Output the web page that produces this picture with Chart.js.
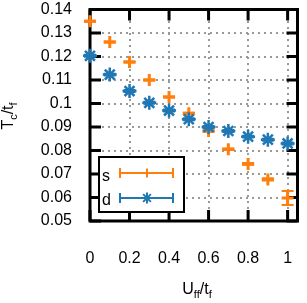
<!DOCTYPE html>
<html>
<head>
<meta charset="utf-8">
<script src="https://cdn.jsdelivr.net/npm/chart.js@4.4.1/dist/chart.umd.min.js"></script>
<style>
  html, body { margin: 0; padding: 0; background: #fff; }
  #wrap { width: 307px; height: 303px; }
</style>
</head>
<body>
<div id="wrap"><canvas id="chart" width="307" height="303"></canvas></div>
<script>
// data
const uValues = [0, 0.1, 0.2, 0.3, 0.4, 0.5, 0.6, 0.7, 0.8, 0.9, 1.0];
const sValues = [0.1350, 0.1262, 0.1177, 0.1100, 0.1028, 0.0958, 0.0883, 0.0805, 0.0743, 0.0677, 0.0598];
const sErrors = [0.0002, 0.0002, 0.0002, 0.0002, 0.0002, 0.0003, 0.0003, 0.0003, 0.0004, 0.0005, 0.0030];
const dValues = [0.1203, 0.1123, 0.1053, 0.1003, 0.0970, 0.0933, 0.0900, 0.0883, 0.0859, 0.0846, 0.0830];
const dErrors = [0.0004, 0.0004, 0.0004, 0.0004, 0.0004, 0.0004, 0.0004, 0.0004, 0.0004, 0.0004, 0.0004];
const xTicks = [0, 0.2, 0.4, 0.6, 0.8, 1];
const yTicks = [0.05, 0.06, 0.07, 0.08, 0.09, 0.1, 0.11, 0.12, 0.13, 0.14];

const ORANGE = '#ff7f0e';
const BLUE = '#1f77b4';
const FONT = '"Liberation Sans", Arial, sans-serif';

function fmt(v) {
    return String(parseFloat(v.toFixed(2)));
}

// draws "X_sub/t_sub" style label starting at x, baseline y
function drawSubLabel(ctx, parts, x, y) {
    let cx = x;
    parts.forEach(p => {
        ctx.font = (p.sub ? '11px ' : '16px ') + FONT;
        ctx.fillText(p.t, cx, y + (p.sub ? 4 : 0));
        cx += ctx.measureText(p.t).width;
    });
    return cx - x;
}

function labelWidth(ctx, parts) {
    let w = 0;
    parts.forEach(p => {
        ctx.font = (p.sub ? '11px ' : '16px ') + FONT;
        w += ctx.measureText(p.t).width;
    });
    return w;
}

function noPad(s) {
    s.paddingLeft = 0;
    s.paddingRight = 0;
    s.paddingTop = 0;
    s.paddingBottom = 0;
}

const framePlugin = {
    id: 'frame',
    beforeDatasetsDraw(chart) {
        const ctx = chart.ctx;
        const area = chart.chartArea;
        const xs = chart.scales.x;
        const ys = chart.scales.y;
        ctx.save();

        // dotted grid
        ctx.strokeStyle = '#999';
        ctx.lineWidth = 2;
        ctx.setLineDash([2, 4]);
        xTicks.forEach(v => {
            const px = Math.round(xs.getPixelForValue(v));
            ctx.beginPath();
            ctx.moveTo(px, area.bottom);
            ctx.lineTo(px, area.top);
            ctx.stroke();
        });
        yTicks.forEach(v => {
            const py = Math.round(ys.getPixelForValue(v));
            ctx.beginPath();
            ctx.moveTo(area.left, py);
            ctx.lineTo(area.right, py);
            ctx.stroke();
        });
        ctx.setLineDash([]);

        // legend box area (opaque)
        const lx = 99, ly = 157, lw = 85, lh = 55;
        ctx.fillStyle = '#fff';
        ctx.fillRect(lx, ly, lw, lh);

        // border and inward ticks
        ctx.strokeStyle = '#000';
        ctx.lineWidth = 3;
        const tl = 11;
        xTicks.forEach(v => {
            const px = xs.getPixelForValue(v);
            ctx.beginPath();
            ctx.moveTo(px, area.bottom);
            ctx.lineTo(px, area.bottom - tl);
            ctx.moveTo(px, area.top);
            ctx.lineTo(px, area.top + tl);
            ctx.stroke();
        });
        yTicks.forEach(v => {
            const py = ys.getPixelForValue(v);
            ctx.beginPath();
            ctx.moveTo(area.left, py);
            ctx.lineTo(area.left + tl, py);
            ctx.moveTo(area.right, py);
            ctx.lineTo(area.right - tl, py);
            ctx.stroke();
        });
        ctx.strokeRect(area.left, area.top, area.right - area.left, area.bottom - area.top);

        // legend frame + entries
        ctx.fillStyle = '#fff';
        ctx.fillRect(lx, ly, lw, lh);
        ctx.lineWidth = 2;
        ctx.strokeStyle = '#000';
        ctx.strokeRect(lx, ly, lw, lh);
        ctx.fillStyle = '#000';
        ctx.font = '16px ' + FONT;
        ctx.textBaseline = 'middle';
        ctx.textAlign = 'left';
        ctx.fillText('s', 102, 177);
        ctx.fillText('d', 102, 201);
        [[173, ORANGE, 'cross'], [198, BLUE, 'star']].forEach(([y, col, style]) => {
            ctx.strokeStyle = col;
            ctx.lineWidth = 2;
            ctx.beginPath();
            ctx.moveTo(120, y);
            ctx.lineTo(173, y);
            ctx.moveTo(120, y - 5);
            ctx.lineTo(120, y + 5);
            ctx.moveTo(173, y - 5);
            ctx.lineTo(173, y + 5);
            ctx.stroke();
            Chart.helpers.drawPoint(ctx, {
                pointStyle: style, radius: style === 'cross' ? 4.5 : 5.5, borderWidth: 3, rotation: 0
            }, 147, y);
        });

        // error bars
        [[sValues, sErrors, ORANGE], [dValues, dErrors, BLUE]].forEach(([vals, errs, col]) => {
            ctx.strokeStyle = col;
            ctx.lineWidth = 2;
            vals.forEach((v, i) => {
                const px = xs.getPixelForValue(uValues[i]);
                const top = ys.getPixelForValue(v + errs[i]);
                const bot = ys.getPixelForValue(v - errs[i]);
                ctx.beginPath();
                ctx.moveTo(px, top);
                ctx.lineTo(px, bot);
                ctx.moveTo(px - 6, top);
                ctx.lineTo(px + 6, top);
                ctx.moveTo(px - 6, bot);
                ctx.lineTo(px + 6, bot);
                ctx.stroke();
            });
        });
        ctx.restore();
    },
    afterDraw(chart) {
        const ctx = chart.ctx;
        ctx.save();
        ctx.fillStyle = '#000';
        ctx.textBaseline = 'alphabetic';
        ctx.textAlign = 'left';

        // x title
        const xParts = [{t: 'U'}, {t: 'ff', sub: true}, {t: '/t'}, {t: 'f', sub: true}];
        const xw = labelWidth(ctx, xParts);
        drawSubLabel(ctx, xParts, 197 - xw / 2, 294);

        // y title, rotated
        const yParts = [{t: 'T'}, {t: 'c', sub: true}, {t: '/t'}, {t: 'f', sub: true}];
        const yw = labelWidth(ctx, yParts);
        ctx.translate(13, 116);
        ctx.rotate(-Math.PI / 2);
        drawSubLabel(ctx, yParts, -yw / 2, 0);
        ctx.restore();
    }
};

const chart = new Chart(document.getElementById('chart'), {
    type: 'scatter',
    data: {
        datasets: [
            {
                label: 'd',
                data: uValues.map((u, i) => ({x: u, y: dValues[i]})),
                pointStyle: 'star',
                radius: 7,
                borderWidth: 2.5,
                borderColor: BLUE,
                backgroundColor: BLUE,
                clip: false,
                order: 0
            },
            {
                label: 's',
                data: uValues.map((u, i) => ({x: u, y: sValues[i]})),
                pointStyle: 'cross',
                radius: 6,
                borderWidth: 3,
                borderColor: ORANGE,
                backgroundColor: ORANGE,
                clip: false,
                order: 1
            }
        ]
    },
    options: {
        responsive: false,
        animation: false,
        events: [],
        layout: { padding: { top: 3, right: 3, left: 0, bottom: 0 } },
        plugins: { legend: { display: false }, tooltip: { enabled: false } },
        scales: {
            x: {
                type: 'linear',
                min: 0,
                max: 1.05,
                grid: { display: false },
                border: { display: false },
                afterBuildTicks: s => { s.ticks = xTicks.map(v => ({value: v})); },
                afterFit: s => { s.height = 82; noPad(s); },
                ticks: {
                    padding: 20,
                    maxRotation: 0,
                    color: '#000',
                    font: { family: FONT, size: 16 },
                    callback: v => fmt(v)
                }
            },
            y: {
                type: 'linear',
                min: 0.05,
                max: 0.14,
                grid: { display: false },
                border: { display: false },
                afterBuildTicks: s => { s.ticks = yTicks.map(v => ({value: v})); },
                afterFit: s => { s.width = 90; noPad(s); },
                ticks: {
                    padding: 10,
                    color: '#000',
                    font: { family: FONT, size: 16 },
                    callback: v => fmt(v)
                }
            }
        }
    },
    plugins: [framePlugin]
});
</script>
</body>
</html>
